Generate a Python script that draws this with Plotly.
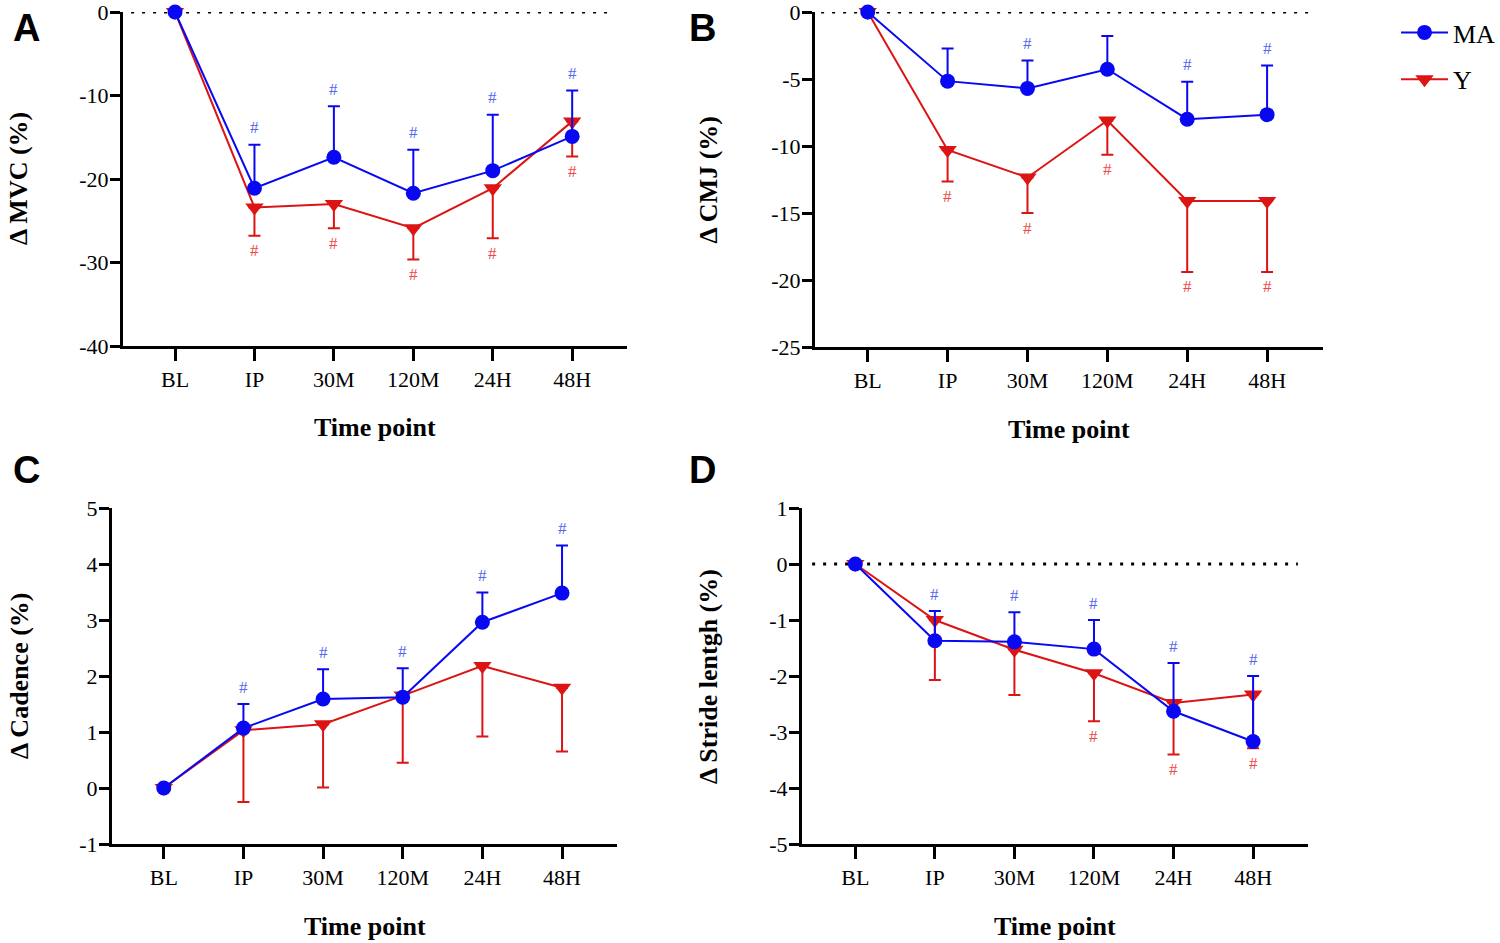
import plotly.graph_objects as go

# ---------------- data ----------------
categories = ["BL", "IP", "30M", "120M", "24H", "48H"]
groups = ["MA", "Y"]

# Panel A: Δ MVC (%)
mvc_ma = [0, -21.1, -17.4, -21.7, -19.0, -14.9]
mvc_ma_sd = [0, 5.2, 6.1, 5.2, 6.7, 5.5]
mvc_y = [0, -23.4, -23.0, -25.9, -21.1, -13.1]
mvc_y_sd = [0, 3.4, 2.9, 3.75, 6.0, 4.2]
mvc_ma_sig = ["", "#", "#", "#", "#", "#"]
mvc_y_sig = ["", "#", "#", "#", "#", "#"]

# Panel B: Δ CMJ (%)
cmj_ma = [0, -5.16, -5.7, -4.27, -8.0, -7.66]
cmj_ma_sd = [0, 2.43, 2.08, 2.48, 2.8, 3.66]
cmj_y = [0, -10.3, -12.35, -8.1, -14.1, -14.1]
cmj_y_sd = [0, 2.35, 2.65, 2.56, 5.3, 5.3]
cmj_ma_sig = ["", "", "#", "", "#", "#"]
cmj_y_sig = ["", "#", "#", "#", "#", "#"]

# Panel C: Δ Cadence (%)
cad_ma = [0, 1.07, 1.59, 1.62, 2.96, 3.48]
cad_ma_sd = [0, 0.43, 0.53, 0.52, 0.53, 0.85]
cad_y = [0, 1.03, 1.14, 1.65, 2.18, 1.79]
cad_y_sd = [0, 1.28, 1.13, 1.2, 1.26, 1.14]
cad_ma_sig = ["", "#", "#", "#", "#", "#"]
cad_y_sig = ["", "", "", "", "", ""]

# Panel D: Δ Stride lentgh (%)
str_ma = [0, -1.37, -1.39, -1.52, -2.63, -3.17]
str_ma_sd = [0, 0.53, 0.53, 0.52, 0.86, 1.17]
str_y = [0, -1.0, -1.53, -1.95, -2.48, -2.33]
str_y_sd = [0, 1.07, 0.81, 0.86, 0.92, 0.96]
str_ma_sig = ["", "#", "#", "#", "#", "#"]
str_y_sig = ["", "", "", "#", "#", "#"]

# axis ticks
mvc_ticks = [0, -10, -20, -30, -40]
cmj_ticks = [0, -5, -10, -15, -20, -25]
cad_ticks = [5, 4, 3, 2, 1, 0, -1]
str_ticks = [1, 0, -1, -2, -3, -4, -5]

# ---------------- style ----------------
W, H = 1500, 943
BLUE = "#0808f2"
RED = "#dc1414"
BLUE_H = "#5566ee"
RED_H = "#ee4848"
SERIF = "Liberation Serif"
SANS = "Liberation Sans"

panels = [
    dict(letter="A", title="Δ MVC (%)", ma=mvc_ma, ma_sd=mvc_ma_sd, y=mvc_y, y_sd=mvc_y_sd,
         ma_sig=mvc_ma_sig, y_sig=mvc_y_sig, ticks=mvc_ticks, yr=[-40, 0],
         px=(123, 627), py=(12, 346), xr=[-0.655, 5.69], dots=True, dot_d=(0.016, 0.976),
         ytitle_shift=-104, letter_pos=(26, 28)),
    dict(letter="B", title="Δ CMJ (%)", ma=cmj_ma, ma_sd=cmj_ma_sd, y=cmj_y, y_sd=cmj_y_sd,
         ma_sig=cmj_ma_sig, y_sig=cmj_y_sig, ticks=cmj_ticks, yr=[-25, 0],
         px=(815, 1323), py=(12, 347), xr=[-0.66, 5.70], dots=True, dot_d=(0.012, 0.978),
         ytitle_shift=-107, letter_pos=(702, 28)),
    dict(letter="C", title="Δ Cadence (%)", ma=cad_ma, ma_sd=cad_ma_sd, y=cad_y, y_sd=cad_y_sd,
         ma_sig=cad_ma_sig, y_sig=cad_y_sig, ticks=cad_ticks, yr=[-1, 5],
         px=(112, 617), py=(508, 844), xr=[-0.65, 5.69], dots=False, dot_d=None,
         ytitle_shift=-93, letter_pos=(26, 470)),
    dict(letter="D", title="Δ Stride lentgh (%)", ma=str_ma, ma_sd=str_ma_sd, y=str_y, y_sd=str_y_sd,
         ma_sig=str_ma_sig, y_sig=str_y_sig, ticks=str_ticks, yr=[-5, 1],
         px=(802, 1308), py=(508, 844), xr=[-0.67, 5.69], dots=True, dot_d=(0.02, 0.98),
         ytitle_shift=-94, letter_pos=(702, 470)),
]

fig = go.Figure()
annotations = []
shapes = []
layout_axes = {}

for i, p in enumerate(panels, start=1):
    xa = "x" if i == 1 else f"x{i}"
    ya = "y" if i == 1 else f"y{i}"
    zeros = [0] * len(categories)
    # Y group (red) first, MA on top
    fig.add_trace(go.Scatter(
        x=categories, y=p["y"], xaxis=xa, yaxis=ya, name=groups[1],
        mode="lines+markers", legendgroup="Y", legendrank=2, showlegend=(i == 2),
        line=dict(color=RED, width=2),
        marker=dict(symbol="triangle-down", size=16, color=RED),
        error_y=dict(type="data", symmetric=False, array=zeros, arrayminus=p["y_sd"],
                     color=RED, thickness=2, width=6),
        cliponaxis=False,
    ))
    fig.add_trace(go.Scatter(
        x=categories, y=p["ma"], xaxis=xa, yaxis=ya, name=groups[0],
        mode="lines+markers", legendgroup="MA", legendrank=1, showlegend=(i == 2),
        line=dict(color=BLUE, width=2),
        marker=dict(symbol="circle", size=15, color=BLUE),
        error_y=dict(type="data", symmetric=False, array=p["ma_sd"], arrayminus=zeros,
                     color=BLUE, thickness=2, width=6),
        cliponaxis=False,
    ))

    x0, x1 = p["px"]
    yt, yb = p["py"]
    axis_font = dict(family=SERIF, size=22, color="black")
    layout_axes["xaxis" if i == 1 else f"xaxis{i}"] = dict(
        domain=[x0 / W, x1 / W], anchor=ya, type="category",
        categoryorder="array", categoryarray=categories, range=p["xr"],
        showline=True, linewidth=3, linecolor="black", ticks="outside",
        ticklen=12, tickwidth=3, tickcolor="black", tickfont=axis_font,
        showgrid=False, zeroline=False, ticklabelstandoff=0, fixedrange=True,
        automargin=False, ticklabeloverflow="allow",
    )
    layout_axes["yaxis" if i == 1 else f"yaxis{i}"] = dict(
        domain=[1 - yb / H, 1 - yt / H], anchor=xa, range=p["yr"],
        tickvals=p["ticks"], ticktext=[str(t) for t in p["ticks"]],
        showline=True, linewidth=3, linecolor="black", ticks="outside",
        ticklen=10, tickwidth=3, tickcolor="black", tickfont=axis_font,
        showgrid=False, zeroline=False, fixedrange=True, automargin=False,
        ticklabeloverflow="allow", ticklabelstandoff=-3,
    )

    # dotted zero line
    if p["dots"]:
        shapes.append(dict(type="line", xref=f"{xa} domain", yref=ya,
                           x0=p["dot_d"][0], x1=p["dot_d"][1], y0=0, y1=0,
                           line=dict(color="black", width=3, dash="3px,8px"), layer="below"))

    # significance marks
    for c, v, e, s in zip(categories, p["ma"], p["ma_sd"], p["ma_sig"]):
        if s:
            annotations.append(dict(x=c, y=v + e, xref=xa, yref=ya, text=s, showarrow=False,
                                    yshift=17, font=dict(family=SERIF, size=17, color=BLUE_H)))
    for c, v, e, s in zip(categories, p["y"], p["y_sd"], p["y_sig"]):
        if s:
            annotations.append(dict(x=c, y=v - e, xref=xa, yref=ya, text=s, showarrow=False,
                                    yshift=-15, font=dict(family=SERIF, size=17, color=RED_H)))

    # axis titles
    annotations.append(dict(text="<b>Time point</b>", xref=f"{xa} domain", yref=f"{ya} domain",
                            x=0.5, y=0, yanchor="middle", xanchor="center", yshift=-82,
                            showarrow=False, font=dict(family=SERIF, size=26, color="black")))
    annotations.append(dict(text=f"<b>{p['title']}</b>", xref=f"{xa} domain", yref=f"{ya} domain",
                            x=0, y=0.5, xanchor="center", yanchor="middle", xshift=p["ytitle_shift"],
                            textangle=-90, showarrow=False,
                            font=dict(family=SERIF, size=26, color="black")))
    # panel letter
    lx, ly = p["letter_pos"]
    annotations.append(dict(text=f"<b>{p['letter']}</b>", xref="paper", yref="paper",
                            x=lx / W, y=1 - ly / H, xanchor="center", yanchor="middle",
                            showarrow=False, font=dict(family=SANS, size=38, color="black")))

fig.update_layout(
    width=W, height=H, margin=dict(l=0, r=0, t=0, b=0, autoexpand=False),
    paper_bgcolor="white", plot_bgcolor="white",
    showlegend=True,
    legend=dict(x=1396 / W, y=1 - 9 / H, xanchor="left", yanchor="top",
                font=dict(family=SERIF, size=26, color="black"),
                traceorder="grouped", tracegroupgap=10, itemwidth=47,
                bgcolor="rgba(0,0,0,0)"),
    annotations=annotations, shapes=shapes,
    **layout_axes,
)

fig.write_html("out.html", config={"displayModeBar": False},
               post_script="document.body.style.margin='0px';")
